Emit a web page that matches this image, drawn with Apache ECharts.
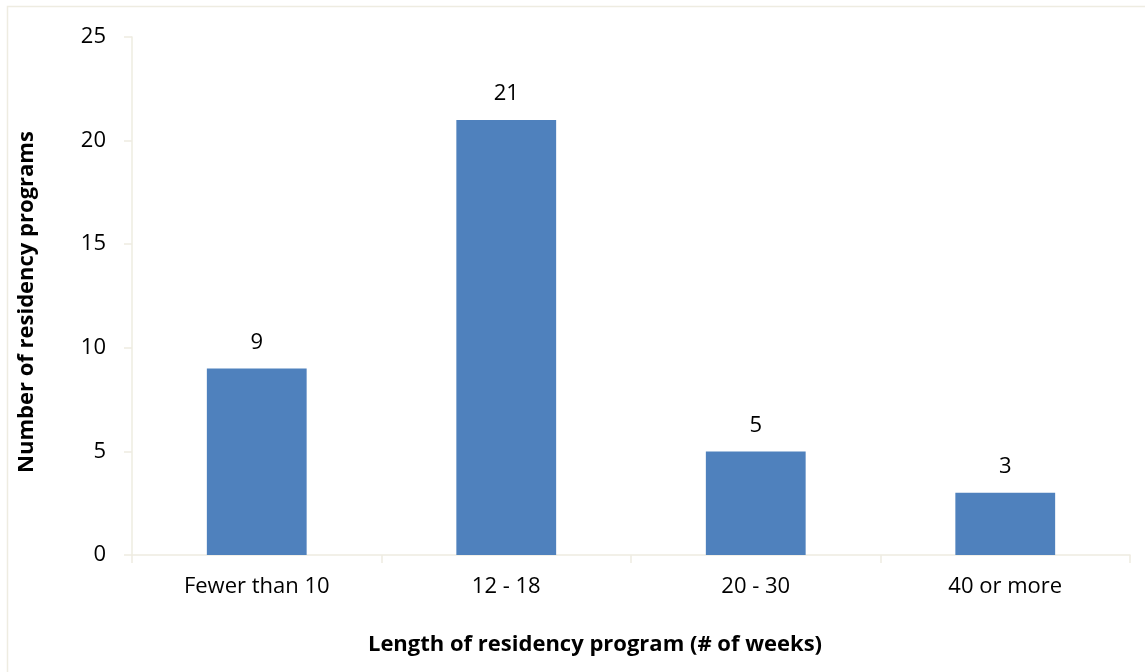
<!DOCTYPE html>
<html>
<head>
<meta charset="utf-8">
<script src="https://cdn.jsdelivr.net/npm/echarts@6/dist/echarts.min.js"></script>
<style>
  html, body { margin: 0; padding: 0; background: #fff; }
  #chart { width: 1145px; height: 672px; }
</style>
</head>
<body>
<div id="chart"></div>
<script>
// 数据
const categories = ['Fewer than 10', '12 - 18', '20 - 30', '40 or more'];
const programCounts = [9, 21, 5, 3];
const yTicks = [0, 5, 10, 15, 20, 25];

const font = '"Open Sans", "Noto Sans", sans-serif';
const axisColor = '#EEECE1';

const chart = echarts.init(document.getElementById('chart'));

const option = {
  animation: false,
  backgroundColor: '#fff',
  textStyle: { fontFamily: font },
  // 外框
  graphic: [{
    type: 'rect',
    shape: { x: 7.5, y: 6.5, width: 1200, height: 700 },
    style: { fill: 'none', stroke: '#EEECE1', lineWidth: 1.5 },
    silent: true
  }],
  grid: { left: 132, right: 15, top: 37, bottom: 117 },
  xAxis: {
    type: 'category',
    data: categories,
    name: 'Length of residency program (# of weeks)',
    nameLocation: 'middle',
    nameGap: 79,
    nameTextStyle: { fontSize: 22, fontWeight: 'bold', color: '#000', padding: [0, 72, 0, 0] },
    axisLine: { lineStyle: { color: axisColor, width: 1.5 } },
    axisTick: { show: true, length: 8, lineStyle: { color: axisColor, width: 1.5 } },
    axisLabel: { fontSize: 22, color: '#000', margin: 21 },
    splitLine: { show: false }
  },
  yAxis: {
    type: 'value',
    min: yTicks[0],
    max: yTicks[yTicks.length - 1],
    interval: 5,
    name: 'Number of residency programs',
    nameLocation: 'middle',
    nameGap: 94,
    nameRotate: 90,
    nameTextStyle: { fontSize: 22, fontWeight: 'bold', color: '#000', padding: [0, 12, 0, 0] },
    axisLine: { show: true, lineStyle: { color: axisColor, width: 1.5 } },
    axisTick: { show: true, length: 8, lineStyle: { color: axisColor, width: 1.5 } },
    axisLabel: { fontSize: 22, color: '#000', margin: 26 },
    splitLine: { show: false }
  },
  series: [{
    type: 'bar',
    data: programCounts,
    barWidth: '40%',
    itemStyle: { color: '#4F81BD' },
    label: {
      show: true,
      position: 'top',
      distance: 15,
      fontSize: 22,
      color: '#000',
      fontFamily: font
    }
  }]
};

chart.setOption(option);
</script>
</body>
</html>
